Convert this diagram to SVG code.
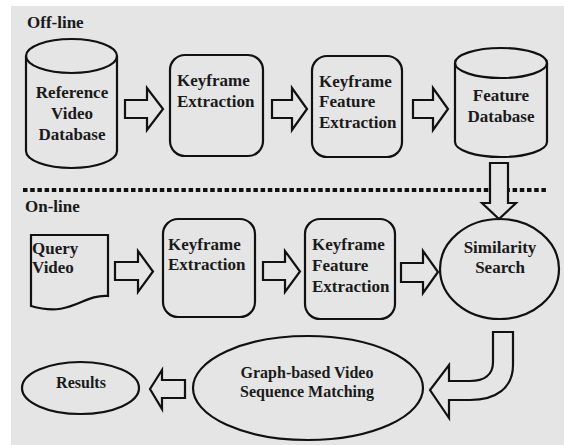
<svg xmlns="http://www.w3.org/2000/svg" width="564" height="445" viewBox="0 0 564 445">
<style>
.s{fill:none;stroke:#111;stroke-width:2.2;stroke-linejoin:miter}
.f{fill:#e5e5e5;stroke:#111;stroke-width:2.2;stroke-linejoin:miter}
.t text{font-family:'Liberation Serif','DejaVu Serif','Times New Roman',serif;font-weight:bold;font-size:17px;fill:#1a1a1a}
.t .c{text-anchor:middle}
.t .m{font-size:16px}
</style>
<rect x="0" y="0" width="564" height="445" fill="#ffffff"/>
<rect x="11" y="6" width="553" height="439" fill="#e5e5e5"/>
<g class="t" font-family="Liberation Serif, DejaVu Serif, serif" font-weight="bold">
<text x="27" y="28">Off-line</text>
<text x="25" y="212">On-line</text>
</g>
<line x1="23" y1="190" x2="546" y2="190" stroke="#111" stroke-width="4" stroke-dasharray="4.5 2.7"/>

<g class="t" font-family="Liberation Serif, DejaVu Serif, serif" font-weight="bold">
<g id="ref-db">
<path class="s" d="M26,56 V151 A45.5,17 0 0 0 117,151 V56"/>
<ellipse class="s" cx="71.5" cy="56" rx="45.5" ry="17"/>
<text class="c" x="72" y="98">Reference</text>
<text class="c" x="72" y="119">Video</text>
<text class="c" x="72" y="140">Database</text>
</g>
<g id="kf-ext-1">
<rect class="s" x="170" y="55" width="93" height="101" rx="15"/>
<text x="177" y="86">Keyframe</text>
<text x="177" y="107">Extraction</text>
</g>
<g id="kf-feat-1">
<rect class="s" x="312" y="56" width="90" height="101" rx="15"/>
<text x="319" y="87">Keyframe</text>
<text x="319" y="107">Feature</text>
<text x="319" y="128">Extraction</text>
</g>
<g id="feat-db">
<path class="s" d="M455,63 V142 A46,15 0 0 0 547,142 V63"/>
<ellipse class="s" cx="501" cy="63" rx="46" ry="15"/>
<text class="c" x="501" y="101">Feature</text>
<text class="c" x="501" y="122">Database</text>
</g>
<g id="query">
<path class="s" d="M31,235 H108 V296 C82,294 72,318 31,306 Z"/>
<text x="32" y="254">Query</text>
<text x="32" y="273">Video</text>
</g>
<g id="kf-ext-2">
<rect class="s" x="163" y="219" width="92" height="98" rx="15"/>
<text x="168" y="250">Keyframe</text>
<text x="168" y="270">Extraction</text>
</g>
<g id="kf-feat-2">
<rect class="s" x="305" y="219" width="90" height="100" rx="15"/>
<text x="312" y="250">Keyframe</text>
<text x="312" y="271">Feature</text>
<text x="312" y="292">Extraction</text>
</g>
<g id="similarity">
<ellipse class="s" cx="499.5" cy="269" rx="59.5" ry="50"/>
<text class="c" x="500" y="253">Similarity</text>
<text class="c" x="500" y="273">Search</text>
</g>
<g id="graph-match">
<ellipse class="s" cx="308" cy="388" rx="115" ry="52"/>
<text class="c m" x="307" y="378">Graph-based Video</text>
<text class="c m" x="307" y="397">Sequence Matching</text>
</g>
<g id="results">
<ellipse class="s" cx="80.5" cy="388" rx="58.5" ry="26"/>
<text class="c m" x="81" y="388">Results</text>
</g>
</g>

<g id="connectors">
<path class="f" d="M125,100 H147 V88 L163,109 L147,130 V118 H125 Z"/>
<path class="f" d="M272,100 H292 V88 L307,109 L292,130 V118 H272 Z"/>
<path class="f" d="M413,100 H433 V88 L448,109 L433,130 V118 H413 Z"/>
<path class="f" d="M490,163 H508 V203 H516 L499,219 L482,203 H490 Z"/>
<path class="f" d="M115,262 H138 V251 L153,271.5 L138,292 V280 H115 Z"/>
<path class="f" d="M263,262 H285 V251 L300,271.5 L285,292 V280 H263 Z"/>
<path class="f" d="M401,263 H423 V251 L438,272 L423,293 V282 H401 Z"/>
<path class="f" d="M493,332 H513 V365 C513,388 496,400 470,400 H449 V418 L430,390 L449,365 V381 H470 C484,381 493,375 493,362 Z"/>
<path class="f" d="M185,380 H162 V370 L150,389 L162,409 V398 H185 Z"/>
</g>
</svg>
